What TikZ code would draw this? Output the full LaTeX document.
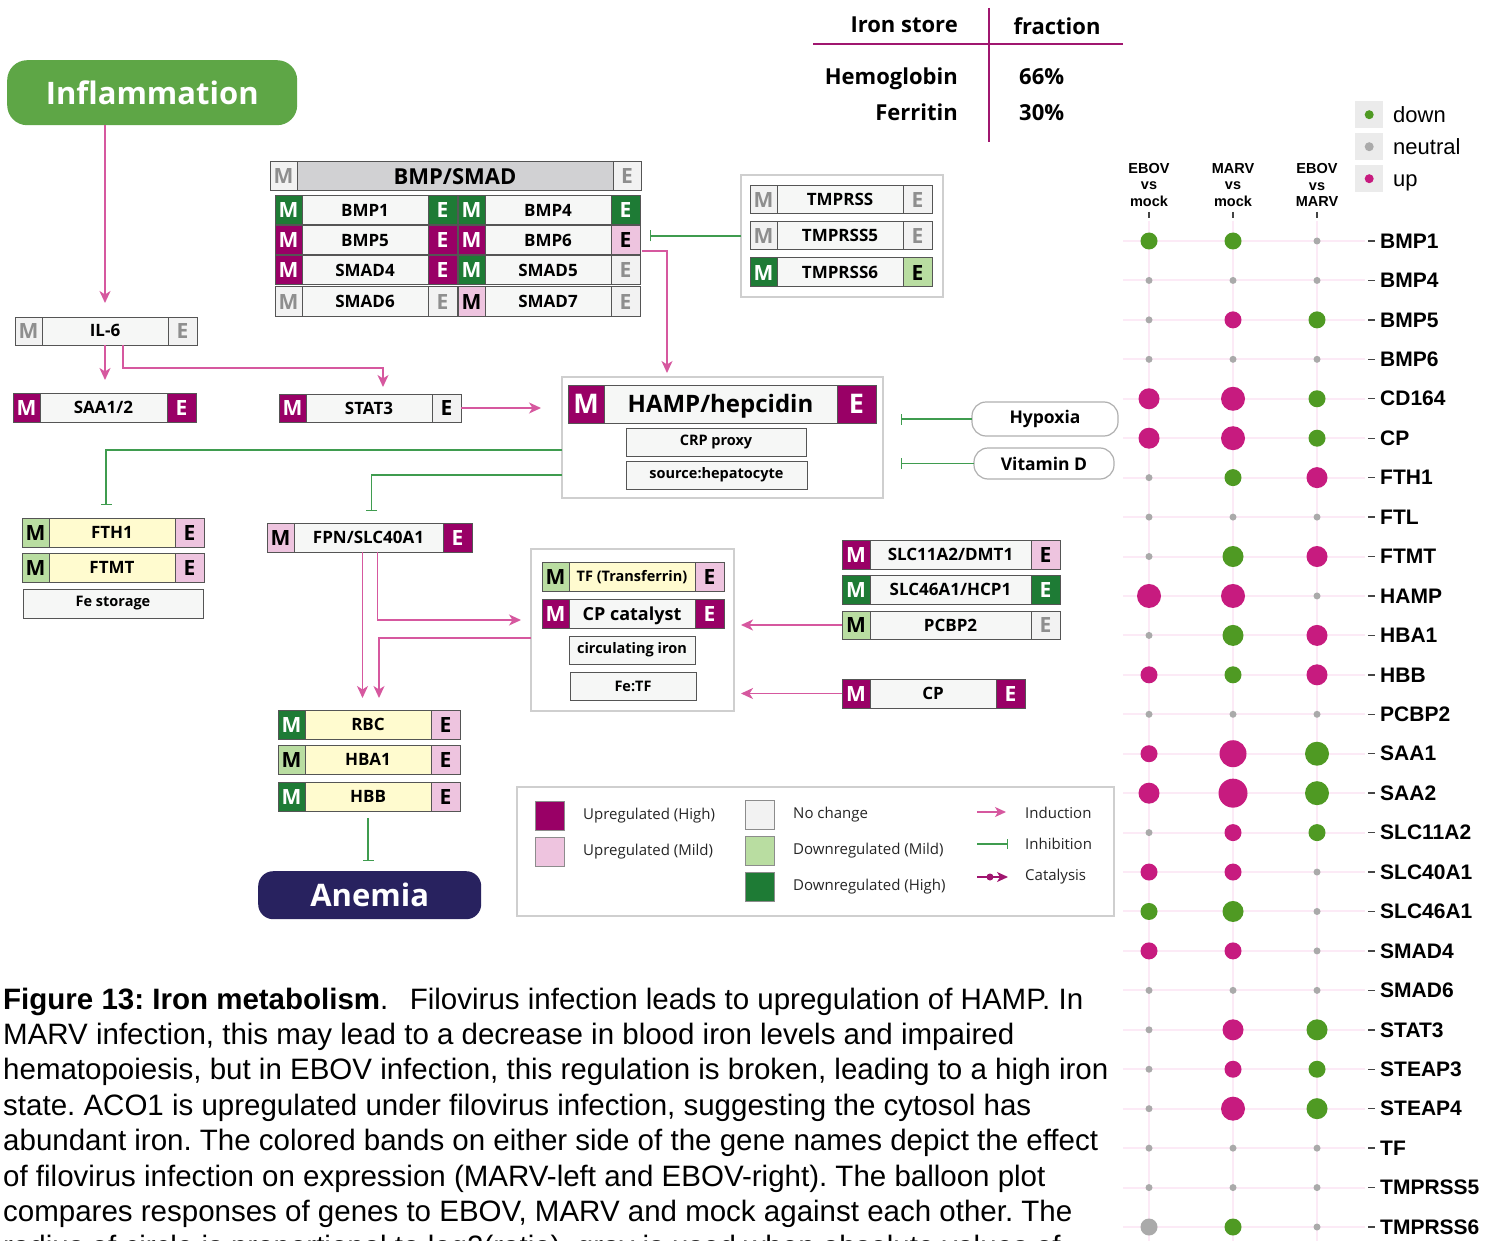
\documentclass[tikz,border=0pt]{standalone}
\usepackage{fontspec}
\setmainfont{Open Sans}
\newfontfamily\arialf{Liberation Sans}
\usetikzlibrary{arrows.meta,calc}
\definecolor{upH}{HTML}{990066}
\definecolor{upM}{HTML}{EEC4DF}
\definecolor{ncF}{HTML}{F2F2F2}
\definecolor{ncT}{HTML}{8E8E8E}
\definecolor{dnM}{HTML}{B9DDA1}
\definecolor{dnH}{HTML}{1E7B35}
\definecolor{nameF}{HTML}{F6F7F6}
\definecolor{yelF}{HTML}{FFFBCF}
\definecolor{hdrF}{HTML}{D1D1D3}
\definecolor{gborder}{HTML}{555555}
\definecolor{grpC}{HTML}{CFCFCF}
\definecolor{indC}{HTML}{D6589F}
\definecolor{inhC}{HTML}{3F9C4F}
\definecolor{catC}{HTML}{A0156F}
\definecolor{tabC}{HTML}{A0166F}
\definecolor{inflC}{HTML}{5EA646}
\definecolor{anemC}{HTML}{28225F}
\definecolor{bg}{HTML}{4F9A23}
\definecolor{bm}{HTML}{C71B7F}
\definecolor{bn}{HTML}{AAAAAA}
\definecolor{gridC}{HTML}{FCEAF6}
\definecolor{keyF}{HTML}{EBEBEB}
\definecolor{tickC}{HTML}{444444}
\definecolor{pillC}{HTML}{B0B0B0}

\newcommand\gnf{\fontsize{17}{17}\selectfont\bfseries}
\newcommand\mef{\fontsize{21}{21}\selectfont\bfseries}
\newcommand\gnh{12pt}
\newcommand\meh{15pt}
\newcommand\mw{27}
\newcommand\ew{29}
\newcommand\gbox[9]{%
 \node[gpart,fill=#8,minimum width={#4-\mw-\ew},minimum height=#5,anchor=north west,font=\gnf,text height=\gnh,text depth=0pt] (#1) at ({#2+\mw},#3) {#9};
 \node[gpart,#6,minimum width=\mw,minimum height=#5,anchor=north east,font=\mef,text height=\meh,text depth=0pt] (#1-M) at (#1.north west) {M};
 \node[gpart,#7,minimum width=\ew,minimum height=#5,anchor=north west,font=\mef,text height=\meh,text depth=0pt] (#1-E) at (#1.north east) {E};}
\frenchspacing

\begin{document}
\begin{tikzpicture}[x=1pt,y=-1pt,
 gpart/.style={draw=gborder,line width=1pt,inner sep=0pt,outer sep=0pt},
 up2/.style={fill=upH,text=white},
 up1/.style={fill=upM,text=black},
 nc/.style={fill=ncF,text=ncT},
 ncb/.style={fill=ncF,text=black},
 dn1/.style={fill=dnM,text=black},
 dn2/.style={fill=dnH,text=white},
 grp/.style={draw=grpC,line width=1.5pt,fill=white,inner sep=0pt,outer sep=0pt},
 tbox/.style={gpart,fill=nameF,font=\fontsize{14.5}{14.5}\selectfont\bfseries},
 pill/.style={draw=pillC,line width=1.2pt,rounded corners=14pt,fill=white,inner sep=0pt,outer sep=0pt,font=\fontsize{17.5}{17.5}\selectfont\bfseries},
 ind/.style={draw=indC,line width=1.6pt,-{Stealth[length=12pt,width=11pt,inset=3.5pt]}},
 inh/.style={draw=inhC,line width=1.4pt,-{Bar[width=11pt,line width=1.4pt]}},
 tabtxt/.style={inner sep=0pt,font=\fontsize{22}{22}\selectfont\bfseries},
 legtxt/.style={anchor=west,inner sep=0pt,font=\fontsize{15}{15}\selectfont,text=black!85},
 swatch/.style={draw=black!45,line width=0.8pt,minimum width=29,minimum height=29,inner sep=0pt},
 bgridline/.style={draw=gridC,line width=2pt},
 blabel/.style={anchor=west,inner sep=0pt,font=\arialf\bfseries\fontsize{21}{21}\selectfont},
 bhead/.style={align=center,inner sep=0pt,font=\arialf\bfseries\fontsize{14.5}{16.5}\selectfont},
 captxt/.style={anchor=base west,inner sep=0pt,font=\arialf\fontsize{29.5}{29.5}\selectfont}
]
\useasboundingbox (0,0) rectangle (1499,1241);
\fill[white] (0,0) rectangle (1499,1241);

% ---------- iron store table
\draw[tabC,line width=1.5pt] (813,44) -- (1123,44);
\draw[tabC,line width=1.5pt] (989,8) -- (989,142);
\node[tabtxt,anchor=base east] (ts1) at (958,33) {Iron store};
\node[tabtxt,anchor=base] (ts2) at (1057,35) {fraction};
\node[tabtxt,anchor=base east] (ts3) at (958,85) {Hemoglobin};
\node[tabtxt,anchor=base east] (ts4) at (958,121) {Ferritin};
\node[tabtxt,anchor=base west] (ts5) at (1019,85) {66\%};
\node[tabtxt,anchor=base west] (ts6) at (1019,121) {30\%};

% ---------- big labels
\node[rounded corners=20pt,fill=inflC,minimum width=290,minimum height=65,text=white,
 font=\fontsize{31}{31}\selectfont\bfseries,anchor=north west,inner sep=0pt] (infl) at (7,60) {Inflammation};
\node[rounded corners=15pt,fill=anemC,minimum width=223,minimum height=48,text=white,
 font=\fontsize{31}{31}\selectfont\bfseries,anchor=north west,inner sep=0pt] (anem) at (258,871) {Anemia};

% ---------- group boxes
\node[grp,minimum width=202,minimum height=122,anchor=north west] (tmbox) at (741,175) {};
\node[grp,minimum width=321,minimum height=121,anchor=north west] (hampbox) at (562,377) {};
\node[grp,minimum width=203,minimum height=162,anchor=north west] (circbox) at (531,549) {};
\node[grp,minimum width=597,minimum height=129,anchor=north west] (legbox) at (517,787) {};

% ---------- BMP/SMAD
\begingroup
\renewcommand\gnf{\fontsize{22}{22}\selectfont\bfseries}\renewcommand\gnh{16pt}\renewcommand\ew{28}
\gbox{bmphdr}{270}{162}{371}{29}{nc}{nc}{hdrF}{BMP/SMAD}
\endgroup
\gbox{bmp1}{275}{196}{182}{29}{dn2}{dn2}{nameF}{BMP1}
\gbox{bmp4}{458}{196}{182}{29}{dn2}{dn2}{nameF}{BMP4}
\gbox{bmp5}{275}{226}{182}{29}{up2}{up2}{nameF}{BMP5}
\gbox{bmp6}{458}{226}{182}{29}{up2}{up1}{nameF}{BMP6}
\gbox{smad4}{275}{256}{182}{29}{up2}{up2}{nameF}{SMAD4}
\gbox{smad5}{458}{256}{182}{29}{dn2}{nc}{nameF}{SMAD5}
\gbox{smad6}{275}{287}{182}{29}{nc}{nc}{nameF}{SMAD6}
\gbox{smad7}{458}{287}{182}{29}{up1}{nc}{nameF}{SMAD7}

% ---------- TMPRSS
\gbox{tm}{750}{186}{182}{28}{nc}{nc}{nameF}{TMPRSS}
\gbox{tm5}{750}{222}{182}{28}{nc}{nc}{nameF}{TMPRSS5}
\gbox{tm6}{750}{258}{182}{29}{dn2}{dn1}{nameF}{TMPRSS6}

% ---------- left genes
\gbox{il6}{15}{317}{182}{28}{nc}{nc}{nameF}{IL-6}
\gbox{saa}{13}{393}{183}{29}{up2}{up2}{nameF}{SAA1/2}
\gbox{stat3}{279}{394}{182}{28}{up2}{ncb}{nameF}{STAT3}
\gbox{fth1}{22}{518}{182}{29}{dn1}{up1}{yelF}{FTH1}
\gbox{ftmt}{22}{553}{182}{29}{dn1}{up1}{yelF}{FTMT}
\node[tbox,minimum width=180,minimum height=29,anchor=north west] (festor) at (23,589) {Fe storage};
\gbox{fpn}{267}{523}{205}{29}{up1}{up2}{nameF}{FPN/SLC40A1}

% ---------- HAMP
\begingroup
\renewcommand\gnf{\fontsize{24}{24}\selectfont\bfseries}\renewcommand\gnh{17pt}
\renewcommand\mef{\fontsize{27}{27}\selectfont\bfseries}\renewcommand\meh{19pt}
\renewcommand\mw{36}\renewcommand\ew{39}
\gbox{hamp}{568}{385}{308}{38}{up2}{up2}{nameF}{HAMP/hepcidin}
\endgroup
\node[tbox,minimum width=180,minimum height=28,anchor=north west] (crp) at (626,428) {CRP proxy};
\node[tbox,minimum width=181,minimum height=28,anchor=north west] (srchep) at (626,461) {source:hepatocyte};
\node[pill,minimum width=146,minimum height=34,anchor=north west] (hyp) at (972,402) {Hypoxia};
\node[pill,minimum width=140,minimum height=31,anchor=north west] (vitd) at (974,448) {Vitamin D};

% ---------- circulating iron
\begingroup
\renewcommand\gnf{\fontsize{14.5}{14.5}\selectfont\bfseries}\renewcommand\gnh{10.5pt}
\gbox{tf}{542}{562}{182}{29}{dn1}{up1}{yelF}{TF (Transferrin)}
\endgroup
\begingroup
\renewcommand\gnf{\fontsize{18}{18}\selectfont\bfseries}\renewcommand\gnh{13pt}
\gbox{cpcat}{542}{599}{182}{29}{up2}{up2}{nameF}{CP catalyst}
\endgroup
\node[tbox,minimum width=126,minimum height=28,anchor=north west] (circiron) at (569,636) {circulating iron};
\node[tbox,minimum width=126,minimum height=28,anchor=north west] (fetf) at (570,672) {Fe:TF};

% ---------- right genes
\renewcommand\mw{28}
\gbox{slc11}{842}{540}{218}{29}{up2}{up1}{nameF}{SLC11A2/DMT1}
\gbox{slc46}{842}{575}{218}{29}{dn2}{dn2}{nameF}{SLC46A1/HCP1}
\gbox{pcbp2}{842}{611}{218}{28}{dn1}{nc}{nameF}{PCBP2}
\gbox{cp}{842}{679}{183}{29}{up2}{up2}{nameF}{CP}
\renewcommand\mw{27}

% ---------- RBC
\gbox{rbc}{278}{710}{182}{29}{dn2}{up1}{yelF}{RBC}
\gbox{hba1}{278}{745}{182}{29}{dn1}{up1}{yelF}{HBA1}
\gbox{hbb}{278}{782}{182}{29}{dn2}{up1}{yelF}{HBB}

% ---------- connectors
\draw[ind] (infl.south -| il6.north) -- ($(il6.north)+(0,-14)$);
\coordinate (saain) at ($(saa.north)+(0,-13)$);
\draw[ind] (il6.south) -- (il6.south |- saain);
\coordinate (il6b) at ($(il6.south)+(18,0)$);
\coordinate (stat3in) at ($(stat3.north)+(14,-7)$);
\draw[ind] (il6b) -- ++(0,23) -| (stat3in);
\coordinate (hampin) at ($(stat3-E.east -| hampbox.west)+(-21,0)$);
\draw[ind] (stat3-E.east) -- (hampin);
\coordinate (bmp6o) at ($(bmp6-E.south east)+(2,-4)$);
\coordinate (hamptop) at ($(hampbox.north west)+(105,-4)$);
\draw[ind] (bmp6o) -| (hamptop);
\coordinate (tmo) at (tmbox.west |- tm5.center);
\coordinate (bmpbar) at ($(bmp6-E.east |- tm5.center)+(10,0)$);
\draw[inh] (tmo) -- (bmpbar);
\draw[inh] (hyp.west) -- ($(hyp.west -| hampbox.east)+(18,0)$);
\draw[inh] (vitd.west) -- ($(vitd.west -| hampbox.east)+(18,0)$);
\coordinate (hl1) at ($(hampbox.north west)+(0,73)$);
\coordinate (fthbar) at ($(fth1.north)+(-6,-13)$);
\draw[inh] (hl1) -| (fthbar);
\coordinate (hl2) at ($(hampbox.north west)+(0,98)$);
\coordinate (fpnbar) at ($(fpn.north)+(3,-12)$);
\draw[inh] (hl2) -| (fpnbar);
\coordinate (fpn1) at ($(fpn.south)+(-6,0)$);
\coordinate (rbcin) at ($(rbc.north)+(0,-12)$);
\draw[ind] (fpn1) -- (fpn1 |- rbcin);
\coordinate (fpn2) at ($(fpn.south)+(9,0)$);
\coordinate (circin) at ($(circbox.west)+(-10,-10)$);
\draw[ind] (fpn2) |- (circin);
\coordinate (circout) at ($(circbox.west)+(0,8)$);
\coordinate (rbcin2) at ($(rbcin)+(11,0)$);
\draw[ind] (circout) -| (rbcin2);
\draw[ind] (pcbp2-M.west) -- ($(pcbp2-M.west -| circbox.east)+(7,0)$);
\draw[ind] (cp-M.west) -- ($(cp-M.west -| circbox.east)+(7,0)$);
\coordinate (hbbo) at ($(hbb.south)+(0,7)$);
\coordinate (anbar) at ($(anem.north)+(0,-10)$);
\draw[inh] (hbbo) -- (hbbo |- anbar);

% ---------- legend
\node[swatch,fill=upH,anchor=north west] (lg1) at (535,801) {};
\node[swatch,fill=upM,anchor=north west] (lg2) at (535,837) {};
\node[swatch,fill=ncF,anchor=north west] (lg3) at (745,800) {};
\node[swatch,fill=dnM,anchor=north west] (lg4) at (745,836) {};
\node[swatch,fill=dnH,anchor=north west] (lg5) at (745,872) {};
\node[legtxt] (lt1) at (583,816) {Upregulated (High)};
\node[legtxt] (lt2) at (583,852) {Upregulated (Mild)};
\node[legtxt] (lt3) at (793,815) {No change};
\node[legtxt] (lt4) at (793,851) {Downregulated (Mild)};
\node[legtxt] (lt5) at (793,887) {Downregulated (High)};
\node[legtxt] (lt6) at (1025,813) {Induction};
\node[legtxt] (lt7) at (1025,844) {Inhibition};
\node[legtxt] (lt8) at (1025,877) {Catalysis};
\coordinate (la1) at (977,812); \coordinate (la2) at (1006,812);
\draw[draw=indC,line width=1.4pt,-{Stealth[length=11pt,width=10pt,inset=3pt]}] (la1) -- (la2);
\coordinate (lb1) at (977,844); \coordinate (lb2) at (1008,844);
\draw[draw=inhC,line width=1.3pt,-{Bar[width=10pt,line width=1.3pt]}] (lb1) -- (lb2);
\coordinate (lc1) at (977,877); \coordinate (lc2) at (1008,877); \coordinate (lcd) at (990,877);
\draw[draw=catC,line width=1.4pt,-{Stealth[length=11pt,width=10pt,inset=3pt]}] (lc1) -- (lc2);
\fill[catC] (lcd) circle[radius=3.5pt];

% ---------- balloon plot
\foreach \x in {1149,1233,1317} \draw[bgridline] (\x,221) -- (\x,1241);
\foreach \i in {0,...,25} \draw[bgridline] (1123,{241+\i*39.44}) -- (1365,{241+\i*39.44});
\foreach \x in {1149,1233,1317} \draw[tickC,line width=1.3pt] (\x,212) -- (\x,218);
\node[bhead] (bh1) at (1149,185) {EBOV\\vs\\mock};
\node[bhead] (bh2) at (1233,185) {MARV\\vs\\mock};
\node[bhead] (bh3) at (1317,185) {EBOV\\vs\\MARV};
\foreach \lab/\ra/\ca/\rb/\cb/\rc/\cc [count=\i from 0] in {
BMP1/8.5/bg/8.5/bg/3.5/bn,
BMP4/3.5/bn/3.5/bn/3.5/bn,
BMP5/3.5/bn/8.5/bm/8.5/bg,
BMP6/3.5/bn/3.5/bn/3.5/bn,
CD164/10.5/bm/12/bm/8.5/bg,
CP/10.5/bm/12/bm/8.5/bg,
FTH1/3.5/bn/8.5/bg/10.5/bm,
FTL/3.5/bn/3.5/bn/3.5/bn,
FTMT/3.5/bn/10.5/bg/10.5/bm,
HAMP/12/bm/12/bm/3.5/bn,
HBA1/3.5/bn/10.5/bg/10.5/bm,
HBB/8.5/bm/8.5/bg/10.5/bm,
PCBP2/3.5/bn/3.5/bn/3.5/bn,
SAA1/8.5/bm/13.5/bm/12/bg,
SAA2/10.5/bm/14.5/bm/12/bg,
SLC11A2/3.5/bn/8.5/bm/8.5/bg,
SLC40A1/8.5/bm/8.5/bm/3.5/bn,
SLC46A1/8.5/bg/10.5/bg/3.5/bn,
SMAD4/8.5/bm/8.5/bm/3.5/bn,
SMAD6/3.5/bn/3.5/bn/3.5/bn,
STAT3/3.5/bn/10.5/bm/10.5/bg,
STEAP3/3.5/bn/8.5/bm/8.5/bg,
STEAP4/3.5/bn/12/bm/10.5/bg,
TF/3.5/bn/3.5/bn/3.5/bn,
TMPRSS5/3.5/bn/3.5/bn/3.5/bn,
TMPRSS6/8.5/bn/8.5/bg/3.5/bn}
{
 \pgfmathsetmacro\yy{241+\i*39.44}
 \fill[fill=\ca] (1149,\yy) circle[radius=\ra pt];
 \fill[fill=\cb] (1233,\yy) circle[radius=\rb pt];
 \fill[fill=\cc] (1317,\yy) circle[radius=\rc pt];
 \draw[tickC,line width=1.4pt] (1368,\yy) -- (1375,\yy);
 \node[blabel] (bl\i) at (1380,\yy) {\lab};
}
\foreach \ky/\kc/\kt [count=\k] in {101/bg/down,133/bn/neutral,165/bm/up} {
 \node[fill=keyF,minimum width=28,minimum height=27,anchor=north west,inner sep=0pt] (key\k) at (1355,\ky) {};
 \fill[fill=\kc] (key\k.center) circle[radius=4.5pt];
 \node[anchor=base west,inner sep=0pt,font=\arialf\fontsize{22}{22}\selectfont] (keyt\k) at (1393,{\ky+21.5}) {\kt};
}

% ---------- caption
\begin{scope}
\clip (0,0) rectangle (1499,1241);
\node[captxt] (c1) at (3,1009) {\textbf{Figure 13: Iron metabolism}.\hspace{0.45em} Filovirus infection leads to upregulation of HAMP. In};
\node[captxt] (c2) at (3,1044.4) {MARV infection, this may lead to a decrease in blood iron levels and impaired};
\node[captxt] (c3) at (3,1079.8) {hematopoiesis, but in EBOV infection, this regulation is broken, leading to a high iron};
\node[captxt] (c4) at (3,1115.2) {state. ACO1 is upregulated under filovirus infection, suggesting the cytosol has};
\node[captxt] (c5) at (3,1150.6) {abundant iron. The colored bands on either side of the gene names depict the effect};
\node[captxt] (c6) at (3,1186) {of filovirus infection on expression (MARV-left and EBOV-right). The balloon plot};
\node[captxt] (c7) at (3,1221.4) {compares responses of genes to EBOV, MARV and mock against each other. The};
\node[captxt] (c8) at (3,1256.8) {radius of circle is proportional to log2(ratio), gray is used when absolute values of};
\end{scope}
\end{tikzpicture}
\end{document}
